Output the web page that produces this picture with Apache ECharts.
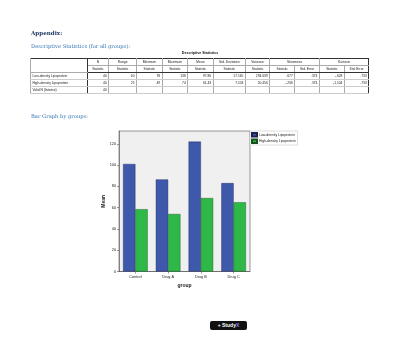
<!DOCTYPE html>
<html>
<head>
<meta charset="utf-8">
<script src="https://cdn.jsdelivr.net/npm/echarts@6/dist/echarts.min.js"></script>
<style>
  body { margin: 0; background: #fff; }
  #page { position: relative; width: 400px; height: 340px; overflow: hidden; }
  #chart { position: absolute; left: 0; top: 0; width: 400px; height: 340px; }
  .head { position: absolute; left: 31px; font-family: "DejaVu Serif", "Liberation Serif", serif; white-space: nowrap; }
  #appendix { top: 30px; font-size: 5.6px; font-weight: bold; color: #1f3864; }
  .sub { font-size: 5.2px; color: #2e74b5; }
  #tbltitle { position: absolute; left: 160px; width: 80px; top: 51px; text-align: center;
    font-family: "Liberation Sans", Arial, sans-serif; font-size: 3.6px; font-weight: bold; color: #111; }
  table { position: absolute; left: 30px; top: 57.5px; border-collapse: collapse; table-layout: fixed;
    font-family: "Liberation Sans", Arial, sans-serif; font-size: 3.3px; color: #222; border: 0.8px solid #333; }
  td { height: 6.2px; padding: 0 1.5px; border-left: 0.5px solid #aaa; white-space: nowrap; overflow: hidden; text-align: right; }
  thead td { text-align: center; border-bottom: 0.5px solid #aaa; }
  thead tr.st td { border-bottom: 0.8px solid #333; }
  td.lab { text-align: left; border-right: 0.8px solid #333; }
  tbody td { border-bottom: 0.5px solid #ccc; }
  #wm { position: absolute; left: 210px; top: 321px; width: 37px; height: 9px; background: #111; border-radius: 2px;
    color: #fff; font-family: "Liberation Sans", Arial, sans-serif; font-weight: bold; font-size: 5px; line-height: 9px; text-align: center; }
  #wm b { color: #8c7dff; }
</style>
</head>
<body>
<div id="page">
  <div id="chart"></div>
  <div id="appendix" class="head">Appendix:</div>
  <div class="head sub" style="top:43px">Descriptive Statistics (for all groups):</div>
  <div id="tbltitle">Descriptive Statistics</div>
  <table id="tbl"></table>
  <div class="head sub" style="top:112.5px">Bar Graph by groups:</div>
  <div id="wm">+ Study<b>X</b></div>
</div>
<script>
// 表格数据
var statCols = ['N', 'Range', 'Minimum', 'Maximum', 'Mean', 'Std. Deviation', 'Variance'];
var rowNames = ['Low-density Lipoprotein', 'High-density Lipoprotein', 'Valid N (listwise)'];
var rowValues = [
    ['40', '60', '78', '138', '97.86', '17.165', '294.639', '.677', '.374', '-.628', '.733'],
    ['40', '25', '49', '74', '61.43', '7.103', '50.456', '-.236', '.374', '-1.104', '.733'],
    ['40', '', '', '', '', '', '', '', '', '', '']
];
var colWidths = [56.7, 21.6, 27.7, 25.7, 25.6, 25.4, 32.3, 24.3, 25, 24.7, 25, 24.3];

// 图表数据
var groups = ['Control', 'Drug A', 'Drug B', 'Drug C'];
var lowDensity = [101, 86.5, 122, 83];
var highDensity = [58.5, 54, 69, 65];
var seriesNames = ['Low-density Lipoprotein', 'High-density Lipoprotein'];

// 画表格
var html = '<colgroup>';
colWidths.forEach(function (w) { html += '<col style="width:' + w + 'px">'; });
html += '</colgroup><thead><tr><td class="lab" rowspan="2"></td>';
statCols.forEach(function (c) { html += '<td>' + c + '</td>'; });
html += '<td colspan="2">Skewness</td><td colspan="2">Kurtosis</td></tr><tr class="st">';
// 7个统计列 + 偏度的Statistic
for (var i = 0; i < 8; i++) html += '<td>Statistic</td>';
html += '<td>Std. Error</td><td>Statistic</td><td>Std. Error</td></tr></thead><tbody>';
rowNames.forEach(function (name, r) {
    html += '<tr><td class="lab">' + name + '</td>';
    rowValues[r].forEach(function (v) { html += '<td>' + v + '</td>'; });
    html += '</tr>';
});
html += '</tbody>';
document.getElementById('tbl').innerHTML = html;

// 柱状图
var myChart = echarts.init(document.getElementById('chart'));
var option = {
    animation: false,
    textStyle: { fontFamily: '"Liberation Sans", Arial, sans-serif' },
    grid: {
        left: 119, top: 131, width: 131, height: 140.5,
        show: true, backgroundColor: '#f0f0f0', borderColor: '#555', borderWidth: 0.6
    },
    legend: {
        data: seriesNames,
        orient: 'vertical',
        left: 250, top: 131,
        itemWidth: 5, itemHeight: 3.5, itemGap: 1,
        padding: [1, 2, 1, 1],
        borderColor: '#bbb', borderWidth: 0.5, backgroundColor: '#fff',
        textStyle: { fontSize: 3.4, color: '#222', padding: [0, 0, 0, -3] },
        icon: 'rect'
    },
    xAxis: {
        type: 'category',
        data: groups,
        name: 'group',
        nameLocation: 'middle',
        nameGap: 12,
        nameTextStyle: { fontSize: 5, fontWeight: 'bold', color: '#222' },
        axisLine: { lineStyle: { color: '#555', width: 0.6 } },
        axisTick: { show: true, length: 2, alignWithLabel: true, lineStyle: { color: '#555', width: 0.6 } },
        axisLabel: { fontSize: 3.8, color: '#222', margin: 3 }
    },
    yAxis: {
        type: 'value',
        min: 0, max: 132, interval: 20,
        name: 'Mean',
        nameLocation: 'middle',
        nameGap: 12,
        nameRotate: 90,
        nameTextStyle: { fontSize: 5, fontWeight: 'bold', color: '#222' },
        axisLine: { show: true, lineStyle: { color: '#555', width: 0.6 } },
        axisTick: { show: true, length: 2, lineStyle: { color: '#555', width: 0.6 } },
        axisLabel: { fontSize: 3.8, color: '#222', margin: 3, showMaxLabel: false },
        splitLine: { show: false }
    },
    series: [{
        name: seriesNames[0],
        type: 'bar',
        data: lowDensity,
        barGap: '0%',
        barCategoryGap: '25%',
        itemStyle: { color: '#3e58ac', borderColor: '#1a2050', borderWidth: 0.4 }
    }, {
        name: seriesNames[1],
        type: 'bar',
        data: highDensity,
        itemStyle: { color: '#2eb848', borderColor: '#14501e', borderWidth: 0.4 }
    }]
};
myChart.setOption(option);
</script>
</body>
</html>
